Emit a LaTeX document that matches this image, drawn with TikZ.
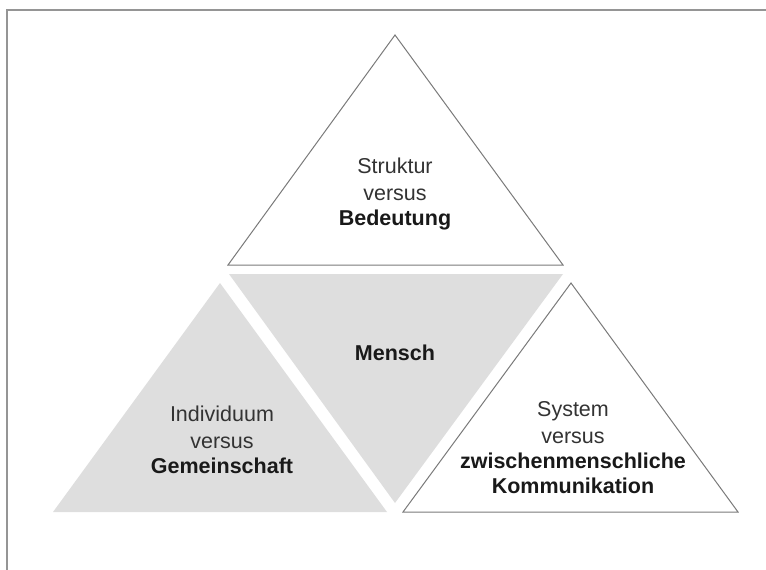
\documentclass[tikz,border=0pt]{standalone}
\usepackage{fontspec}
\setmainfont{Liberation Sans}
\usepackage{tikz}
\usetikzlibrary{positioning, calc}
\definecolor{shade}{HTML}{DEDEDE}
\definecolor{edge}{HTML}{7A7A7A}
\definecolor{ink}{HTML}{333333}
\tikzset{
    frame/.style={draw=edge!80, line width=1.4pt},
    open tri/.style={draw=edge, line width=1pt, fill=white, line join=miter},
    grey tri/.style={fill=shade, draw=none},
    label style/.style={font=\fontsize{21.5}{27}\selectfont, align=center, text=ink},
    key label/.style={font=\fontsize{21.5}{27}\selectfont\bfseries, align=center, text=black!90}
}
\begin{document}
\begin{tikzpicture}[x=1pt, y=-1pt]
    \useasboundingbox (0,0) rectangle (766,570);

    % --- Frame ---
    \draw[frame] (7,570) -- (7,10) -- (766,10);

    % --- Triangles ---
    \draw[open tri] (395,35) -- (563,265) -- (228,265) -- cycle;
    \fill[grey tri] (229,274) -- (563,274) -- (395,503) -- cycle;
    \fill[grey tri] (220,283) -- (387,512) -- (53,512) -- cycle;
    \draw[open tri] (571,283) -- (738,512) -- (403,512) -- cycle;

    % --- Labels ---
    \node (top) [label style] at (395,194) {Struktur\\versus\\[-2pt]\textbf{\color{black!90}Bedeutung}};
    \node (mensch) [key label] at (395,353) {Mensch};
    \node (left) [label style] at (222,440) {Individuum\\versus\\[-2pt]\textbf{\color{black!90}Gemeinschaft}};
    \node (right) [label style] at (573,448) {System\\versus\\[-2pt]\textbf{\color{black!90}zwischenmenschliche}\\[-2pt]\textbf{\color{black!90}Kommunikation}};
\end{tikzpicture}
\end{document}
